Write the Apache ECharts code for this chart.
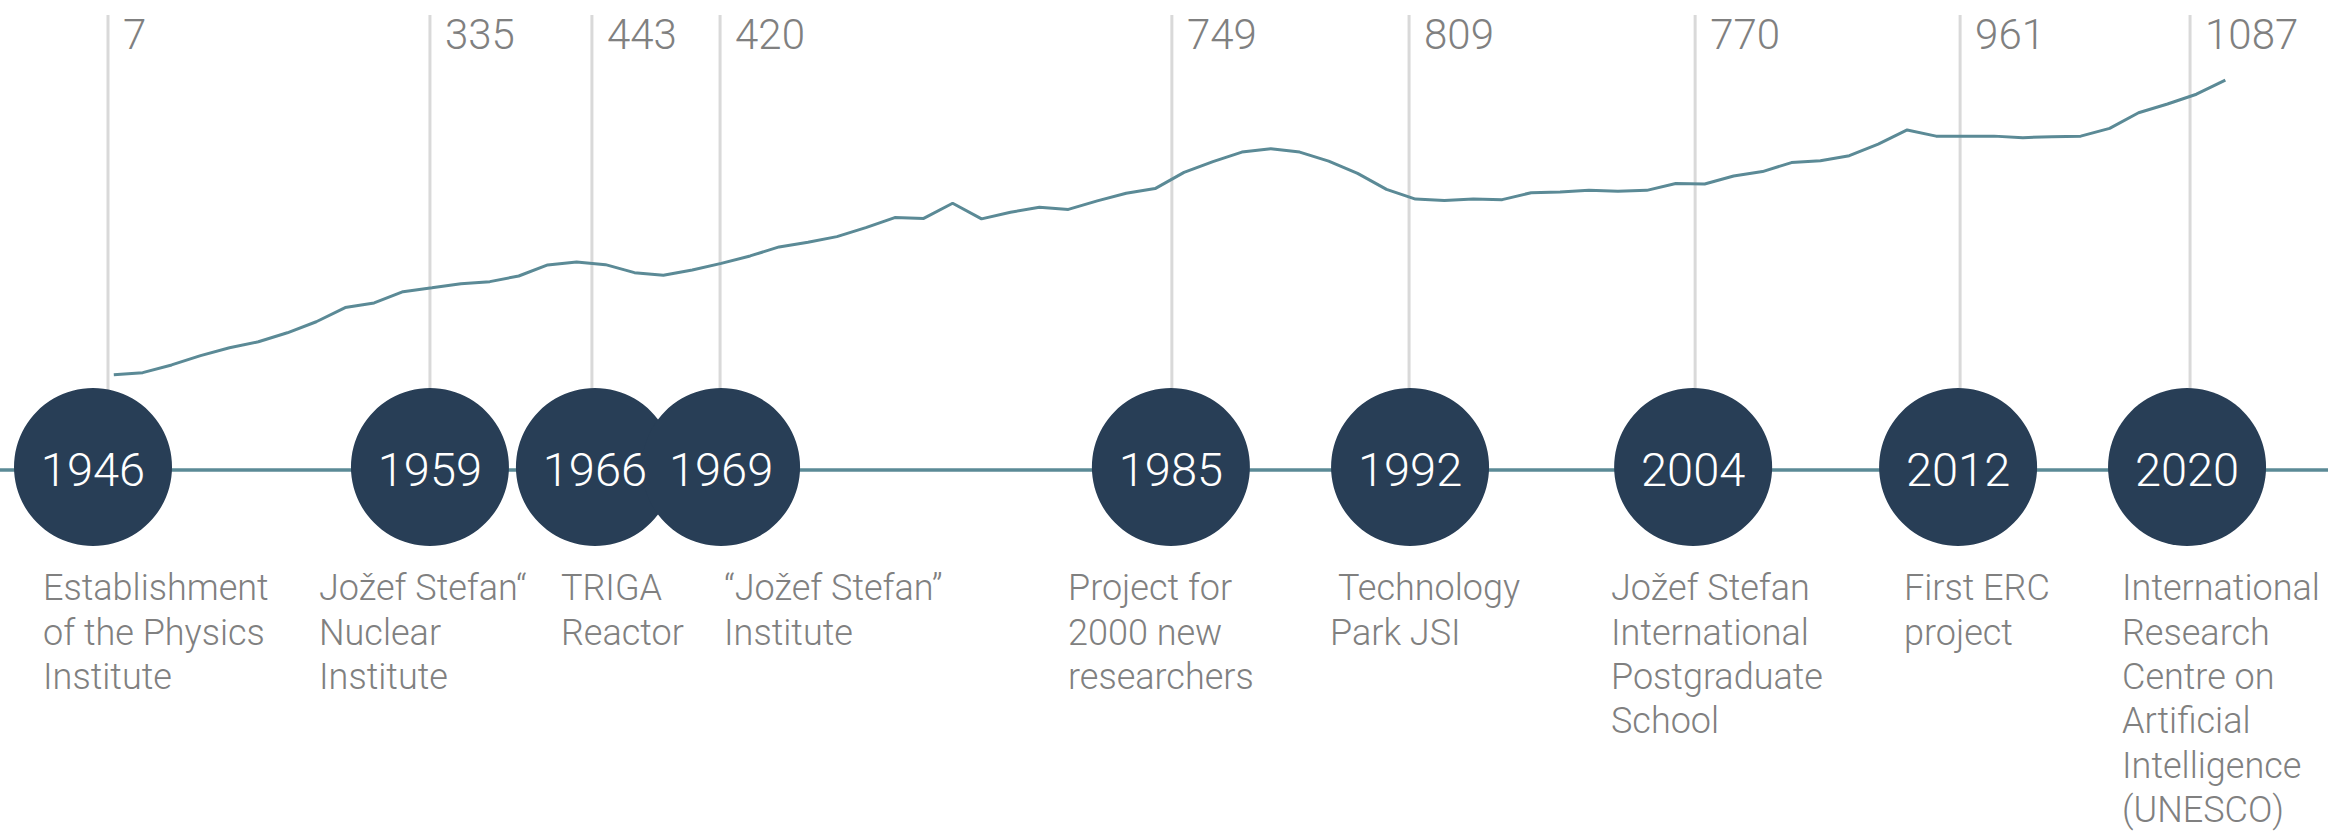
<!DOCTYPE html>
<html>
<head>
<meta charset="utf-8">
<script src="https://cdn.jsdelivr.net/npm/echarts@6/dist/echarts.min.js"></script>
<style>
  html, body { margin: 0; padding: 0; background: #ffffff; }
  #chart { width: 2328px; height: 833px; }
</style>
</head>
<body>
<div id="chart"></div>
<script>
// ---- data ----
// staff headcount line, one value per point along the timeline
const staffLine = [7, 15, 45, 81, 112, 135, 170, 213, 268, 286,
  330, 345, 361, 369, 391, 434, 445, 435, 404, 394,
  414, 440, 469, 504, 522, 544, 579, 618, 615, 674,
  613, 639, 658, 650, 683, 713, 731, 794, 836, 873,
  886, 873, 838, 790, 728, 690, 685, 690, 688, 715,
  718, 724, 721, 724, 751, 749, 780, 797, 832, 839,
  859, 904, 959, 935, 935, 935, 929, 933, 935, 965,
  1026, 1060, 1098, 1153];

// milestones
const milestoneYears = [1946, 1959, 1966, 1969, 1985, 1992, 2004, 2012, 2020];
const milestoneStaff = [7, 335, 443, 420, 749, 809, 770, 961, 1087];
// position of each milestone along the timeline, in line-point units
const milestonePos = [-0.2, 10.93, 16.53, 20.96, 36.58, 44.78, 54.67, 63.83, 71.78];
const milestoneText = [
  'Establishment\nof the Physics\nInstitute',
  'Jožef Stefan\u201C\nNuclear\nInstitute',
  'TRIGA\nReactor',
  '\u201CJožef Stefan\u201D\nInstitute',
  'Project for\n2000 new\nresearchers',
  ' Technology\nPark JSI',
  'Jožef Stefan\nInternational\nPostgraduate\nSchool',
  'First ERC\nproject',
  'International\nResearch\nCentre on\nArtificial\nIntelligence\n(UNESCO)'
];

// ---- layout (pixels) ----
const descLeft = [43, 319, 561, 724, 1068, 1330, 1611, 1904, 2122];
const circleDx = [-15, 0, 3, 1, -1, 1, -2, -2, -3];
const LINE_TOP = 15;
const CIRCLE_Y = 467;
const R = 79;
const VALUE_Y = 34;
const DESC_TOP = 566;
const FONT = 'Roboto, "Open Sans", sans-serif';

const chart = echarts.init(document.getElementById('chart'), null, { renderer: 'svg' });

const milestoneData = milestoneYears.map((y, i) => [milestonePos[i], milestoneStaff[i], y]);

chart.setOption({
  animation: false,
  backgroundColor: '#ffffff',
  grid: { left: 0, right: 0, top: 68, bottom: 456.5, containLabel: false },
  xAxis: {
    type: 'value',
    min: -3.934,
    max: 76.549,
    offset: 93,
    axisLine: { show: true, onZero: false, lineStyle: { color: '#5b8a96', width: 3.5 } },
    axisTick: { show: false },
    axisLabel: { show: false },
    splitLine: { show: false }
  },
  yAxis: {
    type: 'value',
    min: 0,
    max: 1200,
    show: false,
    splitLine: { show: false }
  },
  series: [
    {
      type: 'custom',
      name: 'milestones',
      clip: false,
      z: 3,
      data: milestoneData,
      renderItem: function (params, api) {
        const i = params.dataIndex;
        const x = api.coord([api.value(0), 0])[0];
        const cx = x + circleDx[i];
        return {
          type: 'group',
          children: [
            { type: 'line', z2: 1, shape: { x1: x, y1: LINE_TOP, x2: x, y2: CIRCLE_Y },
              style: { stroke: '#d9d9d9', lineWidth: 3 } },
            { type: 'circle', z2: 2, shape: { cx: cx, cy: CIRCLE_Y, r: R },
              style: { fill: '#283e56' } },
            { type: 'text', z2: 10, style: {
                text: String(api.value(2)), x: cx, y: CIRCLE_Y + 2,
                textAlign: 'center', textVerticalAlign: 'middle',
                fill: '#ffffff', font: '300 47px ' + FONT } },
            { type: 'text', z2: 10, style: {
                text: String(api.value(1)), x: x + 15, y: VALUE_Y,
                textAlign: 'left', textVerticalAlign: 'middle',
                fill: '#808080', font: '300 42px ' + FONT } },
            { type: 'text', z2: 10, style: {
                text: milestoneText[i], x: descLeft[i], y: DESC_TOP,
                textAlign: 'left', textVerticalAlign: 'top', lineHeight: 44.4,
                fill: '#808080', font: '300 36px ' + FONT } }
          ]
        };
      }
    },
    {
      type: 'line',
      name: 'staff',
      z: 4,
      data: staffLine.map((v, i) => [i, v]),
      showSymbol: false,
      lineStyle: { color: '#5b8a96', width: 3 },
      silent: true
    }
  ]
});
</script>
</body>
</html>
